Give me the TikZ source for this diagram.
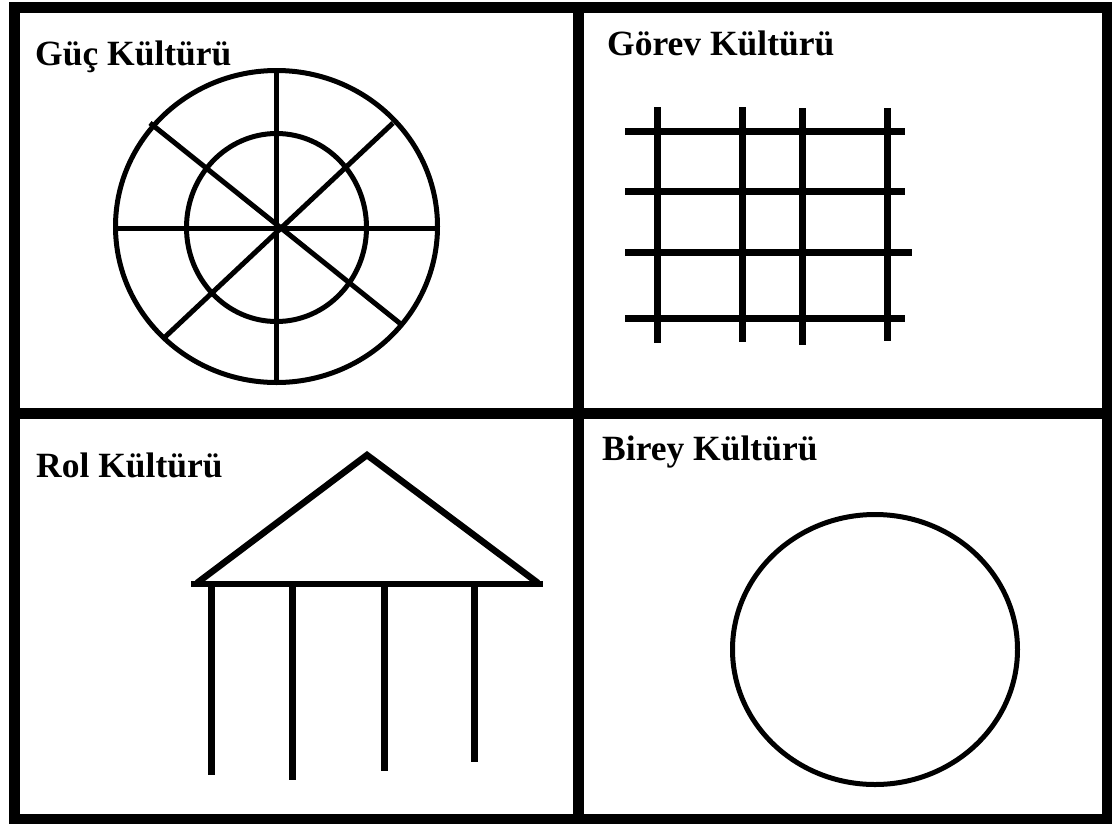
\documentclass[tikz,border=0pt]{standalone}
\usepackage{fontspec}
\setmainfont{Liberation Serif}
\begin{document}
\begin{tikzpicture}[x=1pt,y=-1pt,
  frame/.style={line width=11pt},
  fig/.style={line width=5pt},
  bar/.style={line width=7pt},
  title/.style={anchor=base west,inner sep=0pt,font=\fontsize{35.5}{38}\selectfont\bfseries}]
\useasboundingbox[fill=white] (0,0) rectangle (1112,823);
% frame
\draw[frame] (14,7.5) rectangle (1107,819);
\draw[frame] (578.5,7.5) -- (578.5,819);
\draw[frame] (14,413.5) -- (1107,413.5);
% titles
\node[title] (t1) at (35,65) {Güç Kültürü};
\node[title] (t2) at (607,55) {Görev Kültürü};
\node[title] (t3) at (36,477) {Rol Kültürü};
\node[title] (t4) at (602,460) {Birey Kültürü};
% power culture: web
\draw[fig] (276.5,226.5) ellipse [x radius=161, y radius=156];
\draw[fig] (276.5,227.5) ellipse [x radius=90, y radius=94];
\draw[fig] (276,70) -- (276,383);
\draw[fig] (116,228) -- (438,228);
\draw[fig] (150,123) -- (402,325);
\draw[fig] (393,123) -- (165,337);
% task culture: net
\draw[bar] (657,107) -- (657,343);
\draw[bar] (742,107) -- (742,342);
\draw[bar] (802,108) -- (802,345);
\draw[bar] (887,108) -- (887,341);
\draw[bar] (625,131) -- (905,131);
\draw[bar] (625,191) -- (905,191);
\draw[bar] (625,252) -- (912,252);
\draw[bar] (625,318) -- (905,318);
% role culture: temple
\draw[bar,line width=6.5pt,line join=miter] (197,583) -- (367,455) -- (538,583);
\draw[bar,line width=6pt] (191,584) -- (543,584);
\draw[bar] (211,584) -- (211,775);
\draw[bar] (292,584) -- (292,780);
\draw[bar] (384,584) -- (384,771);
\draw[bar] (474,584) -- (474,762);
% person culture
\draw[fig] (875,649.5) ellipse [x radius=142.5, y radius=135];
\end{tikzpicture}
\end{document}
